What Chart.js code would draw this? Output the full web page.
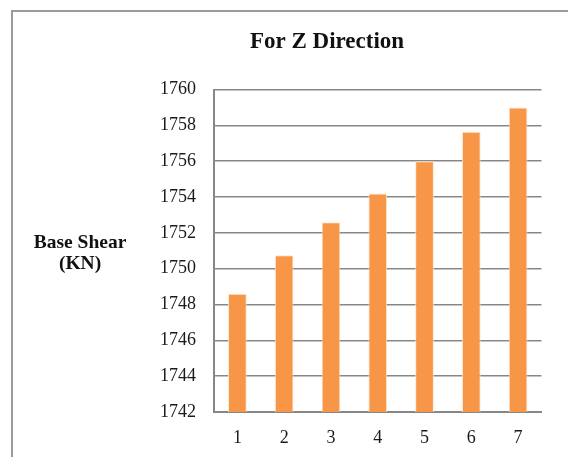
<!DOCTYPE html>
<html>
<head>
<meta charset="utf-8">
<script src="https://cdn.jsdelivr.net/npm/chart.js@4/dist/chart.umd.min.js"></script>
<style>
  html, body { margin: 0; padding: 0; background: #fff; }
  #wrap { position: relative; width: 568px; height: 457px; }
</style>
</head>
<body>
<div id="wrap"><canvas id="c" width="568" height="457"></canvas></div>
<script>
const categories = ['1', '2', '3', '4', '5', '6', '7'];
const baseShear = [1748.6, 1750.75, 1752.6, 1754.2, 1756.0, 1757.65, 1759.0];
const yMin = 1742;
const yMax = 1760;
const yStep = 2;
const titleText = 'For Z Direction';
const yTitleLines = ['Base Shear', '(KN)'];

const FONT = "'Liberation Serif', 'DejaVu Serif', serif";
const GRID = '#878787';

const framePlugin = {
  id: 'frame',
  beforeDraw(chart) {
    const ctx = chart.ctx;
    ctx.save();
    ctx.fillStyle = '#fff';
    ctx.fillRect(0, 0, chart.width, chart.height);
    ctx.strokeStyle = '#9a9a9a';
    ctx.lineWidth = 2;
    ctx.beginPath();
    ctx.moveTo(12, chart.height);
    ctx.lineTo(12, 11);
    ctx.lineTo(chart.width, 11);
    ctx.stroke();
    ctx.restore();
  },
  afterDraw(chart) {
    const ctx = chart.ctx;
    ctx.save();
    ctx.fillStyle = '#111';
    ctx.font = "bold 19.5px " + FONT;
    ctx.textAlign = 'center';
    ctx.textBaseline = 'middle';
    ctx.fillText(yTitleLines[0], 80, 243);
    ctx.fillText(yTitleLines[1], 80, 264);
    ctx.restore();
  }
};

new Chart(document.getElementById('c'), {
  type: 'bar',
  data: {
    labels: categories,
    datasets: [{
      data: baseShear,
      backgroundColor: '#F79646',
      borderColor: 'rgba(253,228,205,0.9)',
      borderWidth: { left: 1, right: 1, top: 1, bottom: 0 },
      barPercentage: 0.4,
      categoryPercentage: 1.0
    }]
  },
  options: {
    responsive: false,
    animation: false,
    devicePixelRatio: 1,
    layout: { padding: { left: 112.5, right: 26.5, top: 0, bottom: 0 } },
    plugins: {
      legend: { display: false },
      tooltip: { enabled: false },
      title: {
        display: true,
        text: titleText,
        color: '#111',
        font: { family: FONT, size: 23, weight: 'bold' },
        padding: { top: 28, bottom: 34 }
      }
    },
    scales: {
      x: {
        grid: { display: false, drawTicks: false },
        border: { display: true, color: GRID, width: 2 },
        ticks: { color: '#1a1a1a', font: { family: FONT, size: 18 }, padding: 15 },
        afterFit(scale) { scale.height = 45; }
      },
      y: {
        min: yMin,
        max: yMax,
        grid: { color: GRID, lineWidth: 1.5, drawTicks: false },
        border: { display: true, color: GRID, width: 2 },
        ticks: {
          stepSize: yStep,
          color: '#1a1a1a',
          font: { family: FONT, size: 18 },
          padding: 18,
          callback: (v) => String(v)
        },
        afterFit(scale) { scale.width = 101.5; }
      }
    }
  },
  plugins: [framePlugin]
});
</script>
</body>
</html>
